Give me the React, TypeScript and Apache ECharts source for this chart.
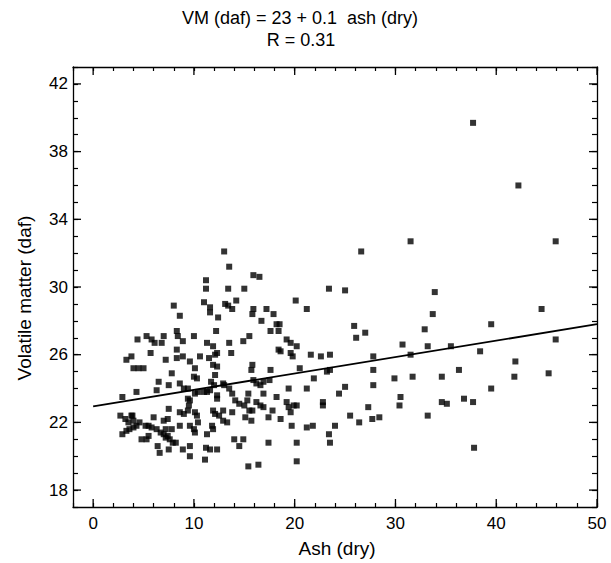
import React, { useEffect, useRef } from "react";
import * as echarts from "echarts";

const titleLine1 = "VM (daf) = 23 + 0.1  ash (dry)";
const titleLine2 = "R = 0.31";
const xName = "Ash (dry)";
const yName = "Volatile matter (daf)";

const xMajor = [0, 10, 20, 30, 40, 50];
const yMajor = [18, 22, 26, 30, 34, 38, 42];

const fitLine = [
  [0, 22.95],
  [50, 27.8],
];

const points: number[][] = [
  [13.0, 32.1], [13.5, 31.2], [15.9, 30.7], [16.5, 30.6], [11.2, 30.4], [11.2, 29.9], [13.4, 29.9], [15.0, 29.9],
  [8.0, 28.9], [8.6, 28.3], [11.0, 29.1], [11.6, 28.8], [11.6, 28.5], [13.1, 29.0], [13.4, 28.9], [13.8, 28.7],
  [14.2, 29.2], [12.4, 28.2], [15.9, 28.7], [15.8, 28.4], [17.2, 28.7], [17.9, 28.4], [16.7, 28.0], [18.2, 27.8],
  [18.5, 27.8], [17.6, 27.4], [18.4, 27.4], [20.1, 29.2],
  [12.2, 27.4], [8.3, 27.4], [8.4, 27.1], [8.9, 26.8], [10.0, 27.1], [4.4, 26.9], [5.3, 27.1], [5.8, 26.9],
  [6.1, 26.7], [7.0, 27.1], [6.8, 26.7], [11.3, 26.7], [11.9, 26.5], [13.5, 26.7], [14.9, 26.8], [15.5, 27.1],
  [19.2, 26.9], [19.6, 26.7], [20.2, 26.5], [18.4, 26.3], [18.6, 26.2], [19.6, 26.1], [19.8, 25.9],
  [3.3, 25.7], [3.8, 25.9], [5.7, 26.1], [8.3, 26.3], [8.9, 25.9], [9.6, 25.6], [10.6, 25.9], [11.5, 25.8],
  [12.1, 26.0], [12.3, 26.1], [13.7, 26.1], [7.2, 25.7], [8.3, 25.8],
  [4.0, 25.2], [4.5, 25.2], [5.0, 25.2], [10.1, 25.2], [10.0, 24.7], [10.3, 24.6], [7.8, 24.9], [11.9, 25.4],
  [12.3, 25.3], [12.1, 24.8], [15.8, 25.4], [15.7, 25.1], [17.6, 25.1], [20.5, 25.2],
  [6.5, 24.4], [7.5, 24.2], [8.6, 24.3], [9.4, 24.0], [11.7, 24.4], [12.0, 24.2], [12.9, 24.3], [13.0, 24.2],
  [15.9, 24.5], [16.2, 24.3], [16.6, 24.2], [16.9, 24.4], [17.5, 24.5],
  [4.3, 23.8], [6.3, 23.9], [11.0, 23.8], [11.3, 23.8], [11.6, 23.9], [10.1, 23.7], [10.4, 23.8], [12.3, 23.6],
  [12.3, 23.4], [13.5, 24.0], [13.8, 23.7], [15.4, 23.7], [16.9, 23.7], [18.2, 23.5], [19.4, 24.0],
  [2.9, 23.5], [9.4, 23.4], [9.6, 23.3], [9.5, 23.0], [9.4, 22.7], [14.1, 23.3], [14.5, 23.1], [15.0, 23.0],
  [15.3, 23.3], [16.2, 23.2], [16.6, 23.0], [16.9, 22.9], [17.8, 22.7], [19.2, 23.2], [19.4, 22.9], [19.9, 23.0],
  [20.2, 23.0], [19.6, 22.6],
  [7.5, 22.8], [8.6, 22.6], [9.0, 22.5], [10.1, 22.6], [10.3, 22.4], [11.9, 22.7], [12.1, 22.5], [12.5, 22.4],
  [12.9, 22.7], [13.8, 22.6], [15.5, 22.7], [15.8, 22.7], [15.1, 22.3], [15.7, 22.1], [17.4, 22.3], [18.6, 22.2],
  [2.7, 22.4], [3.2, 22.2], [3.8, 22.4], [3.5, 22.0], [4.0, 22.1], [4.6, 22.0], [5.2, 21.8], [5.5, 21.8],
  [5.8, 21.7], [6.3, 21.6], [6.7, 21.4], [7.0, 21.3], [7.4, 21.2], [7.6, 21.0], [7.9, 20.8], [8.2, 20.8],
  [6.0, 22.3], [7.0, 22.1], [7.4, 22.2], [7.2, 21.6], [7.8, 21.6], [8.6, 21.8], [9.6, 21.8], [10.0, 21.6],
  [10.4, 22.0], [10.1, 21.4], [11.3, 21.3], [11.8, 21.8], [11.9, 21.6], [12.9, 22.1], [13.3, 22.0],
  [2.9, 21.3], [3.3, 21.5], [3.6, 21.6], [4.0, 21.7], [4.3, 21.8], [4.8, 21.0], [5.3, 21.0], [5.5, 21.2],
  [6.4, 20.6], [6.6, 20.2], [7.5, 20.4], [8.9, 20.4], [9.6, 20.6], [9.6, 20.0], [11.2, 20.5], [11.6, 20.4],
  [12.3, 20.4], [11.1, 19.8],
  [14.0, 21.0], [14.9, 21.0], [14.5, 20.6], [17.4, 20.8], [15.4, 19.4], [16.4, 19.5], [20.2, 19.7], [20.2, 20.8],
  [19.7, 21.8], [9.0, 24.0], [7.2, 21.1], [3.9, 22.4],
  [37.7, 39.7], [42.2, 36.0], [31.5, 32.7], [45.9, 32.7], [26.6, 32.1], [23.4, 29.9], [25.0, 29.8], [33.9, 29.7],
  [21.2, 28.7], [44.5, 28.7], [33.7, 28.4], [25.9, 27.7], [26.1, 27.0], [27.0, 27.3], [32.9, 27.5], [39.5, 27.8],
  [30.7, 26.6], [33.2, 26.5], [35.5, 26.5], [45.9, 26.9], [21.6, 26.0], [22.6, 25.9], [23.5, 26.0], [27.8, 25.9],
  [31.5, 26.0], [38.4, 26.2], [41.9, 25.6], [23.2, 25.0], [23.5, 25.1], [27.8, 25.1], [36.3, 25.1], [21.9, 24.6],
  [21.2, 24.0], [29.9, 24.6], [31.7, 24.7], [34.6, 24.7], [41.8, 24.7], [45.2, 24.9], [25.0, 24.1], [24.4, 23.7],
  [27.8, 24.2], [39.5, 24.0], [22.8, 23.2], [22.8, 23.0], [27.3, 22.9], [30.5, 23.5], [30.4, 23.0], [34.6, 23.2],
  [35.1, 23.1], [36.8, 23.4], [37.7, 23.2], [25.5, 22.4], [26.4, 22.0], [27.7, 22.2], [28.4, 22.3], [33.2, 22.4],
  [21.2, 21.7], [21.8, 21.8], [24.0, 21.8], [23.4, 21.3], [23.5, 20.8], [37.8, 20.5],
];

const X_MIN = -2;
const X_MAX = 50;
const Y_MIN = 17;
const Y_MAX = 43;

const FONT = "'Liberation Sans', Arial, Helvetica, sans-serif";

export default function App() {
  const ref = useRef<HTMLDivElement>(null);

  useEffect(() => {
    if (!ref.current) return;
    const chart = echarts.init(ref.current, undefined, { renderer: "svg" });

    const tickStyle = { color: "#000", width: 1.2 };
    const axisLineCfg = { show: true, onZero: false, lineStyle: { color: "#000", width: 1.3 } };

    const majorTickItem = (isX: boolean) => (params: any, api: any) => {
      const v = api.value(0);
      const lineStyle = { stroke: "#000", lineWidth: 1.3 };
      const L = 8;
      if (isX) {
        const b = api.coord([v, Y_MIN]);
        const t = api.coord([v, Y_MAX]);
        return {
          type: "group",
          children: [
            { type: "line", shape: { x1: b[0], y1: b[1], x2: b[0], y2: b[1] - L }, style: lineStyle },
            { type: "line", shape: { x1: t[0], y1: t[1], x2: t[0], y2: t[1] + L }, style: lineStyle },
          ],
        };
      }
      const l = api.coord([X_MIN, v]);
      const r = api.coord([X_MAX, v]);
      return {
        type: "group",
        children: [
          { type: "line", shape: { x1: l[0], y1: l[1], x2: l[0] + L, y2: l[1] }, style: lineStyle },
          { type: "line", shape: { x1: r[0], y1: r[1], x2: r[0] - L, y2: r[1] }, style: lineStyle },
        ],
      };
    };

    chart.setOption({
      animation: false,
      backgroundColor: "#fff",
      textStyle: { fontFamily: FONT },
      grid: { left: 73, right: 14, top: 67, bottom: 56, containLabel: false },
      graphic: [
        {
          type: "text",
          x: 300,
          y: 18,
          style: { text: titleLine1, font: `18px ${FONT}`, fill: "#000", textAlign: "center", textVerticalAlign: "middle" },
        },
        {
          type: "text",
          x: 301,
          y: 40,
          style: { text: titleLine2, font: `18px ${FONT}`, fill: "#000", textAlign: "center", textVerticalAlign: "middle" },
        },
        {
          type: "text",
          x: 337,
          y: 548,
          style: { text: xName, font: `19px ${FONT}`, fill: "#000", textAlign: "center", textVerticalAlign: "middle" },
        },
        {
          type: "text",
          x: 24,
          y: 298,
          rotation: Math.PI / 2,
          style: { text: yName, font: `19px ${FONT}`, fill: "#000", textAlign: "center", textVerticalAlign: "middle" },
        },
      ],
      xAxis: [
        {
          type: "value",
          position: "bottom",
          min: X_MIN,
          max: X_MAX,
          interval: 2,
          axisLine: axisLineCfg,
          axisTick: { show: true, inside: true, length: 4, lineStyle: tickStyle },
          splitLine: { show: false },
          axisLabel: {
            show: true,
            margin: 8,
            color: "#000",
            fontSize: 17,
            fontFamily: FONT,
            formatter: (v: number) => (xMajor.indexOf(v) >= 0 ? String(v) : ""),
          },
        },
        {
          type: "value",
          position: "top",
          min: X_MIN,
          max: X_MAX,
          interval: 2,
          axisLine: axisLineCfg,
          axisTick: { show: true, inside: true, length: 4, lineStyle: tickStyle },
          splitLine: { show: false },
          axisLabel: { show: false },
        },
      ],
      yAxis: [
        {
          type: "value",
          position: "left",
          min: Y_MIN,
          max: Y_MAX,
          interval: 1,
          axisLine: axisLineCfg,
          axisTick: { show: true, inside: true, length: 5, lineStyle: tickStyle },
          splitLine: { show: false },
          axisLabel: {
            show: true,
            margin: 5,
            color: "#000",
            fontSize: 17,
            fontFamily: FONT,
            formatter: (v: number) => (yMajor.indexOf(v) >= 0 ? String(v) : ""),
          },
        },
        {
          type: "value",
          position: "right",
          min: Y_MIN,
          max: Y_MAX,
          interval: 1,
          axisLine: axisLineCfg,
          axisTick: { show: true, inside: true, length: 5, lineStyle: tickStyle },
          splitLine: { show: false },
          axisLabel: { show: false },
        },
      ],
      series: [
        {
          type: "scatter",
          data: points,
          symbol: "rect",
          symbolSize: 6,
          itemStyle: { color: "#000" },
          silent: true,
        },
        {
          type: "line",
          data: fitLine,
          showSymbol: false,
          symbol: "none",
          lineStyle: { color: "#000", width: 1.8 },
          silent: true,
        },
        {
          type: "custom",
          renderItem: majorTickItem(true),
          data: xMajor.map((v) => [v]),
          clip: false,
          silent: true,
        },
        {
          type: "custom",
          renderItem: majorTickItem(false),
          data: yMajor.map((v) => [v]),
          clip: false,
          silent: true,
        },
      ],
    });

    return () => {
      chart.dispose();
    };
  }, []);

  return (
    <div
      ref={ref}
      style={{ position: "fixed", left: 0, top: 0, width: 611, height: 563, background: "#fff" }}
    />
  );
}
